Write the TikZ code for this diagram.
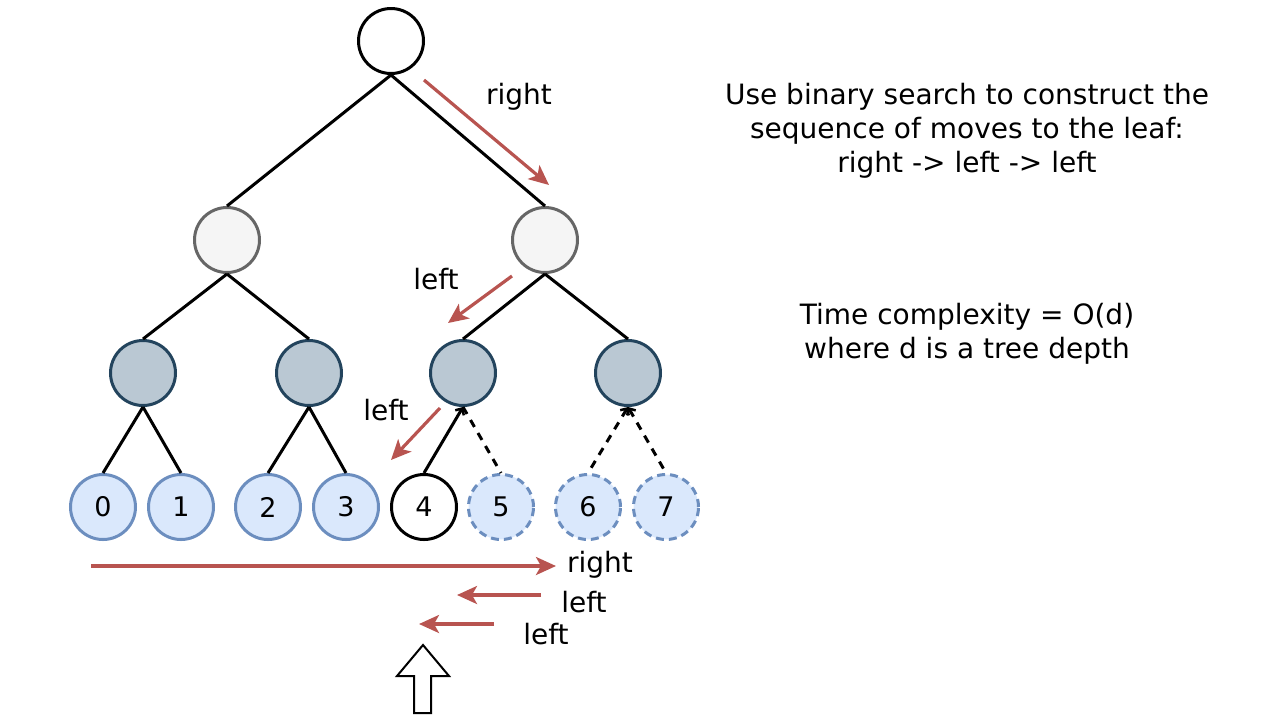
\documentclass[tikz,border=0pt]{standalone}
\usepackage{fontspec}
\setmainfont{DejaVu Sans}
\usetikzlibrary{arrows.meta}
\definecolor{redarr}{HTML}{B85450}
\definecolor{lonefill}{HTML}{F5F5F5}
\definecolor{lonedraw}{HTML}{666666}
\definecolor{ltwofill}{HTML}{BAC8D3}
\definecolor{ltwodraw}{HTML}{23445D}
\definecolor{leaffill}{HTML}{DAE8FC}
\definecolor{leafdraw}{HTML}{6C8EBF}
\tikzset{
  tnode/.style={circle, minimum size=65pt, inner sep=0pt, line width=3pt, font=\fontsize{27}{30}\selectfont},
  rootnode/.style={tnode, draw=black, fill=white},
  lone/.style={tnode, draw=lonedraw, fill=lonefill},
  ltwo/.style={tnode, draw=ltwodraw, fill=ltwofill},
  leafnode/.style={tnode, draw=leafdraw, fill=leaffill},
  ghost/.style={leafnode, dash pattern=on 8pt off 5pt},
  found/.style={tnode, draw=black, fill=white},
  edge/.style={line width=3pt, black},
  dedge/.style={edge, dash pattern=on 8pt off 7pt},
  chev/.style={{Straight Barb[length=5pt,width=10pt,line width=2.5pt]}-},
  move/.style={line width=3.2pt, redarr, -{Stealth[length=20pt,width=18pt,inset=5pt]}},
  lbl/.style={font=\fontsize{28}{30}\selectfont, inner sep=0pt},
  note/.style={font=\fontsize{28}{34}\selectfont, align=center, inner sep=0pt},
}
\begin{document}
\begin{tikzpicture}[x=1pt,y=-1pt]
\useasboundingbox (0,0) rectangle (1264,724);
% tree nodes
\node[rootnode] (r) at (391,41) {};
\node[lone] (a) at (227,240) {};
\node[lone] (b) at (545,240) {};
\node[ltwo] (c) at (143,373) {};
\node[ltwo] (d) at (309,373) {};
\node[ltwo] (e) at (463,373) {};
\node[ltwo] (f) at (628,373) {};
\node[leafnode] (n0) at (103,507) {0};
\node[leafnode] (n1) at (181,507) {1};
\node[leafnode] (n2) at (268,507) {2};
\node[leafnode] (n3) at (346,507) {3};
\node[found] (n4) at (424,507) {4};
\node[ghost] (n5) at (501,507) {5};
\node[ghost] (n6) at (588,507) {6};
\node[ghost] (n7) at (666,507) {7};
% edges
\draw[edge] (r.south) -- (a.north);
\draw[edge] (r.south) -- (b.north);
\draw[edge] (a.south) -- (c.north);
\draw[edge] (a.south) -- (d.north);
\draw[edge] (b.south) -- (e.north);
\draw[edge] (b.south) -- (f.north);
\draw[edge] (c.south) -- (n0.north);
\draw[edge] (c.south) -- (n1.north);
\draw[edge] (d.south) -- (n2.north);
\draw[edge] (d.south) -- (n3.north);
\draw[edge, chev] (e.south) -- (n4.north);
\draw[dedge] (e.south) -- (n5.north);
\draw[dedge, chev] (f.south) -- (n6.north);
\draw[dedge, chev] (f.south) -- (n7.north);
% move arrows in tree
\coordinate (m1s) at (424,80);
\coordinate (m1e) at (549,185);
\coordinate (m2s) at (512,276);
\coordinate (m2e) at (448,323);
\coordinate (m3s) at (440,408);
\coordinate (m3e) at (391,460);
\draw[move] (m1s) -- (m1e);
\draw[move] (m2s) -- (m2e);
\draw[move] (m3s) -- (m3e);
\node[lbl] (t1) at (519,97) {right};
\node[lbl] (t2) at (436,279) {left};
\node[lbl] (t3) at (386,410) {left};
% bottom arrows
\coordinate (b1s) at (91,566);
\coordinate (b1e) at (556,566);
\coordinate (b2s) at (541,595);
\coordinate (b2e) at (457,595);
\coordinate (b3s) at (494,624);
\coordinate (b3e) at (419,624);
\draw[move] (b1s) -- (b1e);
\draw[move] (b2s) -- (b2e);
\draw[move] (b3s) -- (b3e);
\node[lbl] (u1) at (600,565) {right};
\node[lbl] (u2) at (584,602) {left};
\node[lbl] (u3) at (546,634) {left};
% block arrow
\draw[line width=2pt, fill=white, line join=miter] (423,645) -- (449,676) -- (431,676) -- (431,713) -- (414,713) -- (414,676) -- (397,676) -- cycle;
% notes
\node[note] (note1) at (967,131) {Use binary search to construct the\\sequence of moves to the leaf:\\right -> left -> left};
\node[note] (note2) at (967,334) {Time complexity = O(d)\\where d is a tree depth};
\end{tikzpicture}
\end{document}
